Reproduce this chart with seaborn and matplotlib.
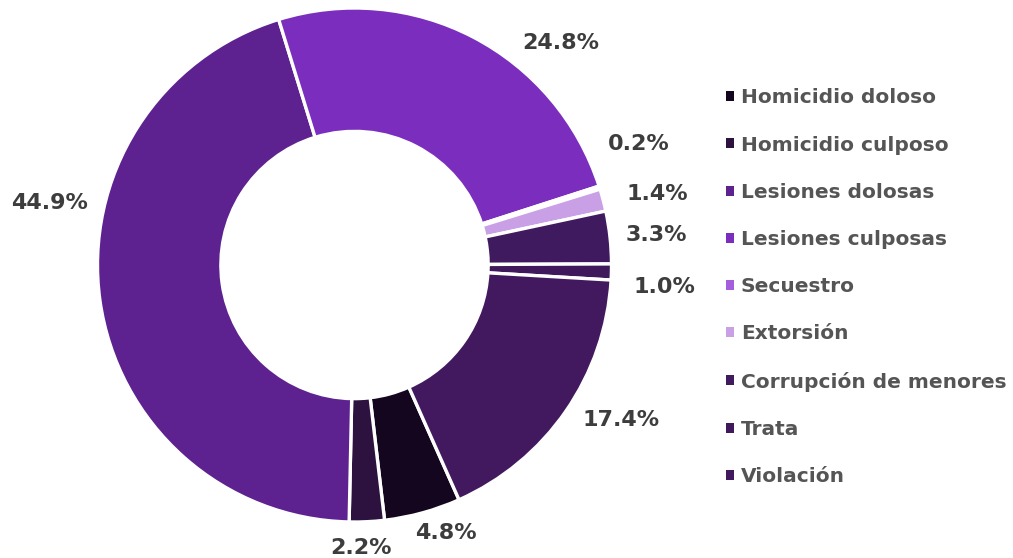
import matplotlib
matplotlib.use("Agg")
import matplotlib.pyplot as plt
from matplotlib.patches import Patch
import seaborn as sns
import numpy as np

# Data
categories = ['Homicidio doloso', 'Homicidio culposo', 'Lesiones dolosas',
              'Lesiones culposas', 'Secuestro', 'Extorsión',
              'Corrupción de menores', 'Trata', 'Violación']
shares = [4.8, 2.2, 44.9, 24.8, 0.2, 1.4, 3.3, 1.0, 17.4]
hex_colors = ['#15061f', '#2d1240', '#5e2190', '#7b2ebd', '#a35ddd',
              '#c9a0e6', '#3f1a5e', '#3f195c', '#42195e']

# label layout: angular nudge (deg) and radius relative to the donut
label_nudge = [3.5, -1.5, -19.5, -15.5, 5.5, -1.5, -0.5, -2.5, 4.5]
label_r = [1.10, 1.10, 1.21, 1.18, 1.20, 1.21, 1.18, 1.21, 1.20]

sns.set_style("white")
plt.rcParams['font.family'] = ['DejaVu Sans']
palette = sns.color_palette(hex_colors)

fig = plt.figure(figsize=(10.13, 5.58), dpi=100)
R_px = 257
a, b = 1.35, 1.05
cx, cy = 354.5 / 1013, 1 - 265 / 558
w, h = 2 * a * R_px / 1013, 2 * b * R_px / 558
ax = fig.add_axes([cx - w / 2, cy - h / 2, w, h])

wedges, _ = ax.pie(shares, colors=palette, startangle=-66, counterclock=False,
                   wedgeprops=dict(width=0.48, edgecolor='white', linewidth=2.4))
ax.set_xlim(-a, a)
ax.set_ylim(-b, b)
ax.set_aspect('equal')
ax.axis('off')

for wdg, val, nudge, r in zip(wedges, shares, label_nudge, label_r):
    mid = np.deg2rad((wdg.theta1 + wdg.theta2) / 2 + nudge)
    ax.text(r * np.cos(mid), r * np.sin(mid), f"{val:.1f}%", ha='center', va='center',
            fontsize=16, fontweight='bold', color='#3d3d3d')

handles = [Patch(facecolor=c, edgecolor='none') for c in palette]
leg = fig.legend(handles, categories, loc='upper left', bbox_to_anchor=(0.699, 0.874),
                 frameon=False, handlelength=0.38, handleheight=0.38, handletextpad=0.35,
                 labelspacing=1.40, prop=dict(size=14.5, weight='bold'))
for t in leg.get_texts():
    t.set_color('#555555')

fig.savefig('out.png', dpi=100)
